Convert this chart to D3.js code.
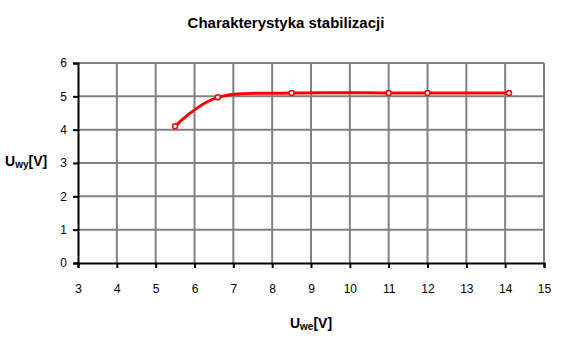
<!DOCTYPE html>
<html>
<head>
<meta charset="utf-8">
<script src="https://cdn.jsdelivr.net/npm/d3@7"></script>
<style>
body { margin: 0; background: #fff; }
text { font-family: "Liberation Sans", Arial, sans-serif; }
</style>
</head>
<body>
<svg width="574" height="354"></svg>
<script>
// dane
var uwe = [5.5, 6.6, 8.5, 11, 12, 14.1];
var uwy = [4.1, 4.97, 5.1, 5.1, 5.1, 5.1];
var xTicks = [3, 4, 5, 6, 7, 8, 9, 10, 11, 12, 13, 14, 15];
var yTicks = [0, 1, 2, 3, 4, 5, 6];

var svg = d3.select("svg");

var x = d3.scaleLinear().domain([3, 15]).range([78, 544]);
var y = d3.scaleLinear().domain([0, 6]).range([263, 63]);

// siatka
svg.append("g").selectAll("line.v")
    .data(xTicks.slice(1))
    .enter().append("line")
    .attr("x1", d => x(d)).attr("x2", d => x(d))
    .attr("y1", y(0)).attr("y2", y(6))
    .attr("stroke", "#808080").attr("stroke-width", 2);
svg.append("g").selectAll("line.h")
    .data(yTicks.slice(1))
    .enter().append("line")
    .attr("x1", x(3)).attr("x2", x(15))
    .attr("y1", d => y(d)).attr("y2", d => y(d))
    .attr("stroke", "#808080").attr("stroke-width", 2);

// osie
var xAxis = svg.append("g")
    .attr("transform", "translate(0," + y(0) + ")")
    .call(d3.axisBottom(x).tickValues(xTicks).tickFormat(d3.format("d")).tickSize(5).tickPadding(16));
var yAxis = svg.append("g")
    .attr("transform", "translate(" + x(3) + ",0)")
    .call(d3.axisLeft(y).tickValues(yTicks).tickFormat(d3.format("d")).tickSize(5).tickPadding(6));
[xAxis, yAxis].forEach(function(a) {
    a.select(".domain").attr("stroke", "#000").attr("stroke-width", 2);
    a.selectAll(".tick line").attr("stroke", "#000").attr("stroke-width", 2);
    a.selectAll(".tick text").attr("font-size", 12).attr("fill", "#000")
        .attr("font-family", "'Liberation Sans', Arial, sans-serif");
});

// linia wygładzona (jak w Excelu)
var pts = uwe.map((d, i) => [d, uwy[i]]);
var line = d3.line()
    .x(d => x(d[0])).y(d => y(d[1]))
    .curve(d3.curveCardinal.tension(0));
svg.append("path")
    .datum(pts)
    .attr("d", line)
    .attr("fill", "none")
    .attr("stroke", "#ff0000")
    .attr("stroke-width", 3);

svg.append("g").selectAll("circle")
    .data(pts)
    .enter().append("circle")
    .attr("cx", d => x(d[0])).attr("cy", d => y(d[1]))
    .attr("r", 2.5)
    .attr("fill", "#fff")
    .attr("stroke", "#ff0000")
    .attr("stroke-width", 1.5);

// tytuł i opisy osi
svg.append("text")
    .attr("x", 286).attr("y", 28)
    .attr("text-anchor", "middle")
    .attr("font-size", 15).attr("font-weight", "bold")
    .text("Charakterystyka stabilizacji");

var yl = svg.append("text")
    .attr("x", 5).attr("y", 166)
    .attr("font-size", 14).attr("font-weight", "bold");
yl.append("tspan").text("U");
yl.append("tspan").attr("font-size", 10).attr("dy", 2).text("wy");
yl.append("tspan").attr("dy", -2).text("[V]");

var xl = svg.append("text")
    .attr("x", 311).attr("y", 328)
    .attr("text-anchor", "middle")
    .attr("font-size", 14).attr("font-weight", "bold");
xl.append("tspan").text("U");
xl.append("tspan").attr("font-size", 10).attr("dy", 2).text("we");
xl.append("tspan").attr("dy", -2).text("[V]");
</script>
</body>
</html>
